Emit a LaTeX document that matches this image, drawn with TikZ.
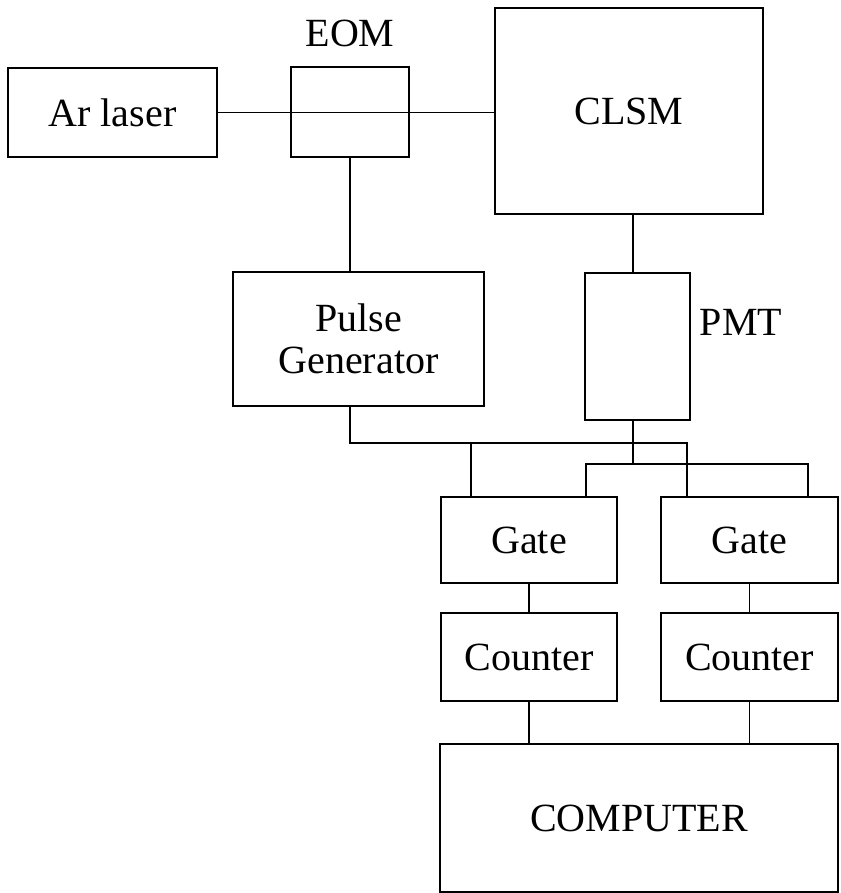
\documentclass[tikz,border=0pt]{standalone}
\usepackage{fontspec}
\setmainfont{Liberation Serif}
\begin{document}
\begin{tikzpicture}[x=1pt,y=-1pt,
  box/.style={draw, line width=1.5pt, rectangle, inner sep=0pt, align=center,
    font=\fontsize{40}{42}\selectfont},
  lbl/.style={inner sep=0pt, font=\fontsize{40}{42}\selectfont},
  wire/.style={line width=1.5pt}]
\useasboundingbox (0,0) rectangle (840,893);

% optical path
\node[box, minimum width=209pt, minimum height=89pt] (laser) at (112.5,112.5) {Ar laser};
\node[box, minimum width=118pt, minimum height=90pt] (eom) at (350,112) {};
\node[lbl] (eomlbl) at (350,33) {EOM};
\node[box, minimum width=268pt, minimum height=206pt] (clsm) at (629,111) {CLSM};

% electronics
\node[box, minimum width=251pt, minimum height=134pt] (pulse) at (358.5,339) {Pulse\\Generator};
\node[box, minimum width=105pt, minimum height=147pt] (pmt) at (637.5,346.5) {};
\node[lbl] (pmtlbl) at (741,322) {PMT};

\node[box, minimum width=176pt, minimum height=86pt] (gateA) at (529,540) {Gate};
\node[box, minimum width=177pt, minimum height=86pt] (gateB) at (749.5,540) {Gate};
\node[box, minimum width=176pt, minimum height=88pt] (cntA) at (529,657) {Counter};
\node[box, minimum width=177pt, minimum height=88pt] (cntB) at (749.5,657) {Counter};
\node[box, minimum width=398pt, minimum height=148pt] (comp) at (639,818) {COMPUTER};

% junction points of the signal wiring
\coordinate (pbus) at (350,443);
\coordinate (tbus) at (633,464);
\coordinate (gA1) at (471,497);
\coordinate (gA2) at (586,497);
\coordinate (gB1) at (687,497);
\coordinate (gB2) at (808,497);

% laser beam through the modulator into the microscope
\draw[wire] (laser.east) -- (laser.east -| clsm.west);
\draw[wire] (eom.south) -- (eom.south |- pulse.north);
\draw[wire] (tbus |- clsm.south) -- (tbus |- pmt.north);

% pulse generator to both gates
\draw[wire] (pbus |- pulse.south) -- (pbus) -| (gB1);
\draw[wire] (pbus -| gA1) -- (gA1);

% photomultiplier to both gates
\draw[wire] (tbus |- pmt.south) -- (tbus);
\draw[wire] (gA2) |- (tbus) -| (gB2);

% gates, counters, computer
\draw[wire] (gateA.south) -- (cntA.north);
\draw[wire] (gateB.south) -- (cntB.north);
\draw[wire] (cntA.south) -- (cntA.south |- comp.north);
\draw[wire] (cntB.south) -- (cntB.south |- comp.north);
\end{tikzpicture}
\end{document}
